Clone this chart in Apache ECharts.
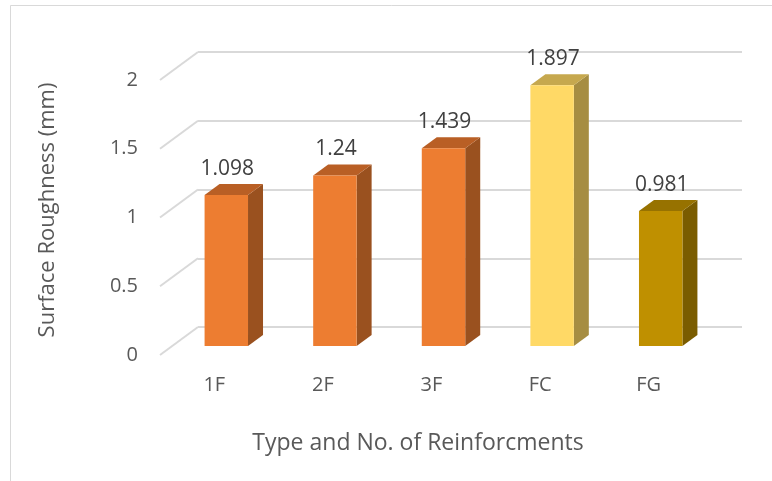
<!DOCTYPE html>
<html>
<head>
<meta charset="utf-8">
<script src="https://cdn.jsdelivr.net/npm/echarts@6/dist/echarts.min.js"></script>
<style>html,body{margin:0;padding:0;background:#fff;}#chart{width:772px;height:481px;}</style>
</head>
<body>
<div id="chart"></div>
<script>
var categories = ['1F', '2F', '3F', 'FC', 'FG'];
var values = [1.098, 1.24, 1.439, 1.897, 0.981];
var yTicks = [0, 0.5, 1, 1.5, 2];
var frontColors = ['#ED7D31', '#ED7D31', '#ED7D31', '#FFD966', '#BF9000'];
var topColors = ['#B95F25', '#B95F25', '#B95F25', '#C6A84E', '#977200'];
var sideColors = ['#9A511F', '#9A511F', '#9A511F', '#A68D42', '#7A5C00'];

var FONT = '"Open Sans", sans-serif';
var TXT = '#595959';
var LBL = '#404040';
var GRID_C = '#D9D9D9';
var DX = 15, DY = 11;

var chart = echarts.init(document.getElementById('chart'), null, {renderer: 'canvas'});

var option = {
  animation: false,
  backgroundColor: '#fff',
  grid: [
    {left: 172, width: 543, top: 71, height: 275},   // bar plane
    {left: 198, right: 30, top: 52, height: 275},    // back wall
    {left: 160, width: 543, top: 80, height: 275}    // front plane (labels)
  ],
  xAxis: [
    {gridIndex: 0, type: 'category', data: categories, show: false},
    {gridIndex: 1, type: 'value', min: 0, max: 1, show: false},
    {gridIndex: 2, type: 'category', data: categories,
      axisLine: {show: false}, axisTick: {show: false},
      axisLabel: {color: TXT, fontFamily: FONT, fontSize: 20, margin: 20}}
  ],
  yAxis: [
    {gridIndex: 0, type: 'value', min: 0, max: 2, interval: 0.5, show: false},
    {gridIndex: 1, type: 'value', min: 0, max: 2, interval: 0.5,
      axisLine: {show: false}, axisTick: {show: false}, axisLabel: {show: false},
      splitLine: {show: true, lineStyle: {color: GRID_C, width: 2}}},
    {gridIndex: 2, type: 'value', min: 0, max: 2, interval: 0.5,
      axisLine: {show: false}, axisTick: {show: false}, splitLine: {show: false},
      axisLabel: {color: TXT, fontFamily: FONT, fontSize: 20, margin: 22}}
  ],
  series: [
    {
      type: 'custom',
      xAxisIndex: 1, yAxisIndex: 1,
      data: yTicks.map(function (v) { return [0, v]; }),
      silent: true,
      renderItem: function (params, api) {
        var p = api.coord([0, api.value(1)]);
        return {
          type: 'line',
          shape: {x1: p[0], y1: p[1], x2: p[0] - 38, y2: p[1] + 28},
          style: {stroke: GRID_C, lineWidth: 2}
        };
      }
    },
    {
      type: 'custom',
      xAxisIndex: 0, yAxisIndex: 0,
      data: values.map(function (v, i) { return [i, v]; }),
      renderItem: function (params, api) {
        var i = params.dataIndex;
        var v = api.value(1);
        var top = api.coord([i, v]);
        var bot = api.coord([i, 0]);
        var w = api.size([1, 0])[0] * 0.4;
        var x0 = top[0] - w / 2, x1 = top[0] + w / 2;
        var yT = top[1], yB = bot[1];
        return {
          type: 'group',
          children: [
            {type: 'polygon', shape: {points: [[x1, yB], [x1 + DX, yB - DY], [x1 + DX, yT - DY], [x1, yT]]},
              style: {fill: sideColors[i]}},
            {type: 'polygon', shape: {points: [[x0, yT], [x0 + DX, yT - DY], [x1 + DX, yT - DY], [x1, yT]]},
              style: {fill: topColors[i]}},
            {type: 'rect', shape: {x: x0, y: yT, width: w, height: yB - yT},
              style: {fill: frontColors[i]}},
            {type: 'text', x: top[0] + 1, y: yT - DY - 5,
              style: {text: String(values[i]), fill: LBL, font: '21px ' + FONT,
                textAlign: 'center', textVerticalAlign: 'bottom'}}
          ]
        };
      }
    }
  ],
  graphic: [
    {type: 'rect', shape: {x: 10.5, y: 5.5, width: 900, height: 600},
      style: {fill: 'none', stroke: '#D9D9D9', lineWidth: 1}, silent: true},
    {type: 'text', x: 48, y: 210, rotation: Math.PI / 2,
      style: {text: 'Surface Roughness (mm)', fill: TXT, font: '22px ' + FONT,
        textAlign: 'center', textVerticalAlign: 'middle'}},
    {type: 'text', x: 418, y: 443,
      style: {text: 'Type and No. of Reinforcments', fill: TXT, font: '23px ' + FONT,
        textAlign: 'center', textVerticalAlign: 'middle'}}
  ]
};
chart.setOption(option);
</script>
</body>
</html>
